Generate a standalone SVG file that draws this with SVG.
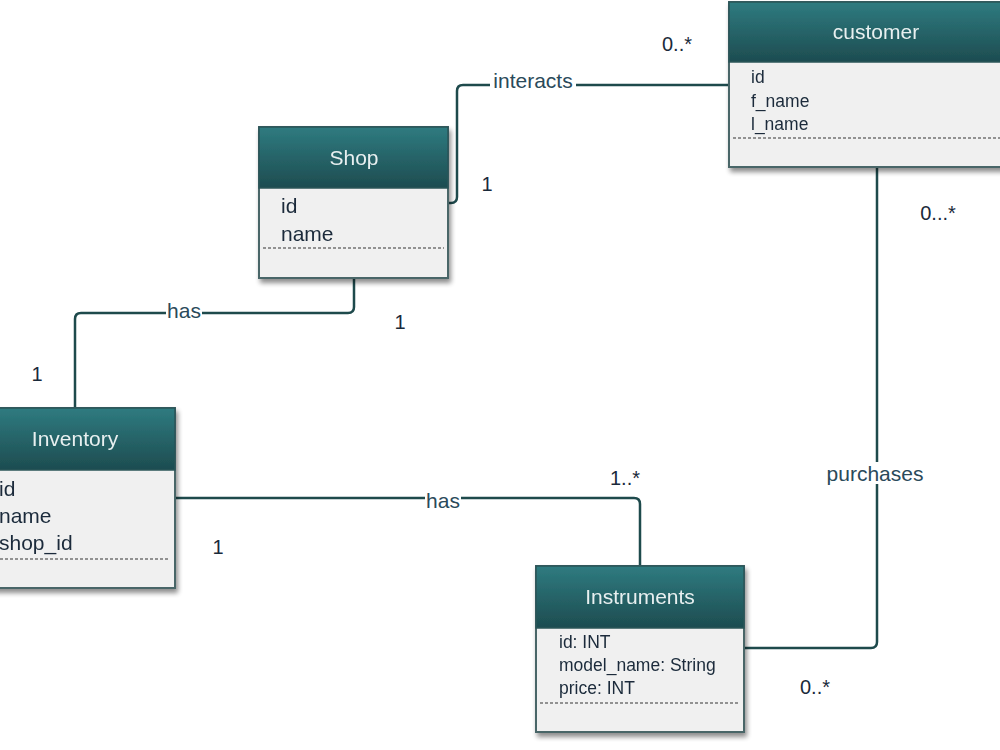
<svg xmlns="http://www.w3.org/2000/svg" width="1000" height="750" viewBox="0 0 1000 750">
<defs>
<linearGradient id="hdr" x1="0" y1="0" x2="0" y2="1">
<stop offset="0" stop-color="#2f7b80"/>
<stop offset="1" stop-color="#1d4c50"/>
</linearGradient>
<filter id="sh" x="-10%" y="-10%" width="130%" height="130%">
<feGaussianBlur in="SourceAlpha" stdDeviation="2.5"/>
<feOffset dx="2" dy="4"/>
<feComponentTransfer><feFuncA type="linear" slope="0.45"/></feComponentTransfer>
<feMerge><feMergeNode/><feMergeNode in="SourceGraphic"/></feMerge>
</filter>
</defs>
<style>
.body{fill:#f0f0f0;stroke:#4a6668;stroke-width:2}
.head{fill:url(#hdr);stroke:#2a5558;stroke-width:1.5}
.title{font-family:"Liberation Sans",Arial,sans-serif;font-size:21px;fill:#e8f0f0;text-anchor:middle}
.attr{font-family:"Liberation Sans",Arial,sans-serif;font-size:21px;fill:#1a2a3a}
.attrs{font-family:"Liberation Sans",Arial,sans-serif;font-size:17.5px;fill:#1a2a3a}
.dash{stroke:#333;stroke-width:1.2;stroke-dasharray:3,2}
.conn{fill:none;stroke:#1e4a4c;stroke-width:2.5}
.lbl{font-family:"Liberation Sans",Arial,sans-serif;font-size:21px;fill:#2a4a5a;text-anchor:middle}
.mult{font-family:"Liberation Sans",Arial,sans-serif;font-size:20px;fill:#1a2a3a;text-anchor:middle}
.lblbg{fill:#ffffff}
</style>
<g id="connectors">
<path class="conn" d="M448,203 H451 Q457,203 457,197 V91 Q457,85 463,85 H729"/>
<path class="conn" d="M354,278 V307 Q354,313 348,313 H81 Q75,313 75,319 V408"/>
<path class="conn" d="M175,498 H634 Q640,498 640,504 V566"/>
<path class="conn" d="M877,167 V642 Q877,648 871,648 H744"/>
<rect class="lblbg" x="490" y="70" width="86" height="22"/>
<text class="lbl" x="533" y="88">interacts</text>
<rect class="lblbg" x="166" y="302" width="36" height="20"/>
<text class="lbl" x="184" y="318">has</text>
<rect class="lblbg" x="425" y="490" width="36" height="20"/>
<text class="lbl" x="443" y="508">has</text>
<rect class="lblbg" x="824" y="462" width="104" height="22"/>
<text class="lbl" x="875" y="481">purchases</text>
<text class="mult" x="677" y="51">0..*</text>
<text class="mult" x="487" y="191">1</text>
<text class="mult" x="938" y="220">0...*</text>
<text class="mult" x="400" y="329">1</text>
<text class="mult" x="37" y="381">1</text>
<text class="mult" x="625" y="485">1..*</text>
<text class="mult" x="218" y="554">1</text>
<text class="mult" x="815" y="694">0..*</text>
</g>
<g id="customer" filter="url(#sh)">
<rect class="body" x="729" y="2" width="280" height="165"/>
<rect class="head" x="729" y="2" width="280" height="60"/>
<text class="title" x="876" y="39">customer</text>
<text class="attrs" x="751" y="83">id</text>
<text class="attrs" x="751" y="107">f_name</text>
<text class="attrs" x="751" y="130">l_name</text>
<line class="dash" x1="733" y1="138" x2="1000" y2="138"/>
</g>
<g id="shop" filter="url(#sh)">
<rect class="body" x="259" y="127" width="189" height="151"/>
<rect class="head" x="259" y="127" width="189" height="61"/>
<text class="title" x="354" y="165">Shop</text>
<text class="attr" x="281" y="213">id</text>
<text class="attr" x="281" y="241">name</text>
<line class="dash" x1="263" y1="248" x2="444" y2="248"/>
</g>
<g id="inventory" filter="url(#sh)">
<rect class="body" x="-25" y="408" width="200" height="180"/>
<rect class="head" x="-25" y="408" width="200" height="62"/>
<text class="title" x="75" y="446">Inventory</text>
<text class="attr" x="-1" y="496">id</text>
<text class="attr" x="-1" y="523">name</text>
<text class="attr" x="-1" y="550">shop_id</text>
<line class="dash" x1="-20" y1="559" x2="170" y2="559"/>
</g>
<g id="instruments" filter="url(#sh)">
<rect class="body" x="536" y="566" width="208" height="166"/>
<rect class="head" x="536" y="566" width="208" height="62"/>
<text class="title" x="640" y="604">Instruments</text>
<text class="attrs" x="559" y="648">id: INT</text>
<text class="attrs" x="559" y="671">model_name: String</text>
<text class="attrs" x="559" y="694">price: INT</text>
<line class="dash" x1="540" y1="703" x2="740" y2="703"/>
</g>
</svg>
